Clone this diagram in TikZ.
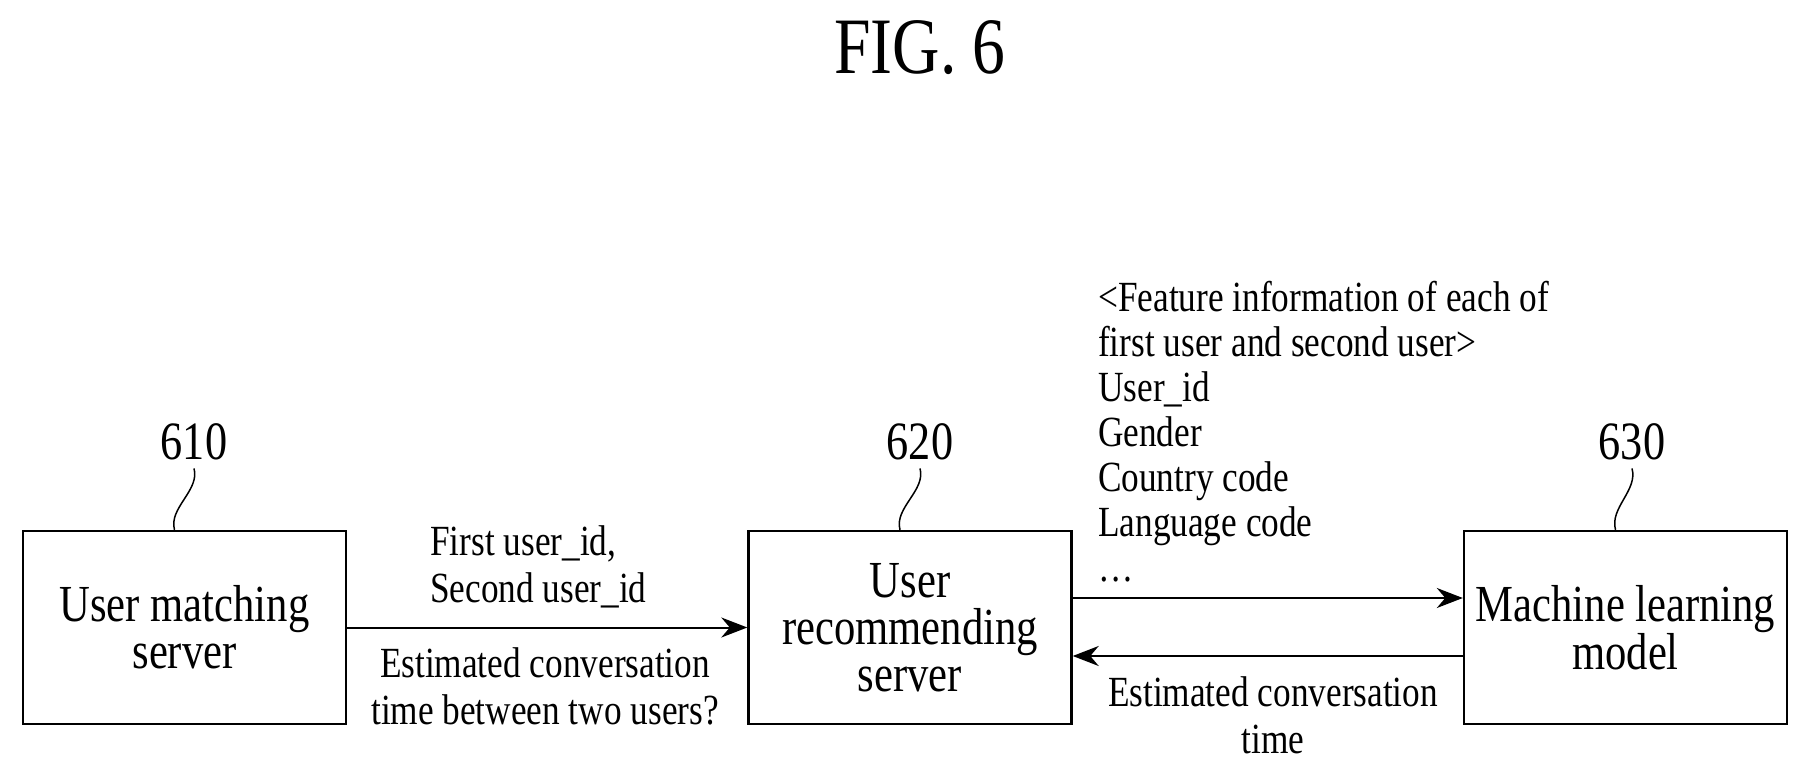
\documentclass[tikz,border=0pt]{standalone}
\usepackage{fontspec}
\setmainfont{Liberation Serif}[FakeStretch=0.82]
\usetikzlibrary{arrows.meta,positioning}
\tikzset{
  box/.style={draw, line width=2.4pt, minimum width=323pt, minimum height=193pt,
    align=center, inner sep=0pt, font=\fontsize{52}{47}\selectfont},
  txt/.style={inner sep=0pt, font=\fontsize{43}{47}\selectfont},
  num/.style={inner sep=0pt, font=\fontsize{54}{60}\selectfont},
  flow/.style={line width=2pt, -{Stealth[length=26pt,width=20pt]}},
  lead/.style={line width=1.5pt}
}
\begin{document}
\begin{tikzpicture}[x=1pt,y=1pt]
	\useasboundingbox (0,0) rectangle (1811,774);
	% titel
	\node [inner sep=0pt, font=\fontsize{80}{80}\selectfont] (fig) at (920,726) {FIG. 6};

	% blokken
	\node [box] (match) at (184.5,146.5) {User matching\\server};
	\node [box] (recom) at (910,146.5) {User\\recommending\\server};
	\node [box] (model) at (1625.5,146.5) {Machine learning\\model};

	% nummers
	\node [num] (n610) at (194,332) {610};
	\node [num] (n620) at (920,332) {620};
	\node [num] (n630) at (1632,332) {630};
	\draw [lead] (n610.south) ++(0,-8) .. controls +(6,-22) and +(-6,22) .. ([xshift=-10pt]match.north);
	\draw [lead] (n620.south) ++(0,-8) .. controls +(6,-22) and +(-6,22) .. ([xshift=-10pt]recom.north);
	\draw [lead] (n630.south) ++(0,-8) .. controls +(6,-22) and +(-6,22) .. ([xshift=-10pt]model.north);

	% verbindingen
	\draw [flow] (match.east) -- (recom.west);
	\draw [flow] ([yshift=29.5pt]recom.east) -- ([yshift=29.5pt]model.west);
	\draw [flow] ([yshift=-28.5pt]model.west) -- ([yshift=-28.5pt]recom.east);

	% teksten
	\node [txt, anchor=west, align=left] (ids) at (430,207) {First user\_id,\\Second user\_id};
	\node [txt, align=center] (ask) at (545,87.5) {Estimated conversation\\time between two users?};
	\node [txt, anchor=west, align=left, font=\fontsize{43}{45}\selectfont] (feat) at (1098,342)
		{<Feature information of each of\\first user and second user>\\User\_id\\Gender\\Country code\\Language code\\…};
	\node [txt, align=center] (est) at (1273,58.5) {Estimated conversation\\time};
\end{tikzpicture}
\end{document}
